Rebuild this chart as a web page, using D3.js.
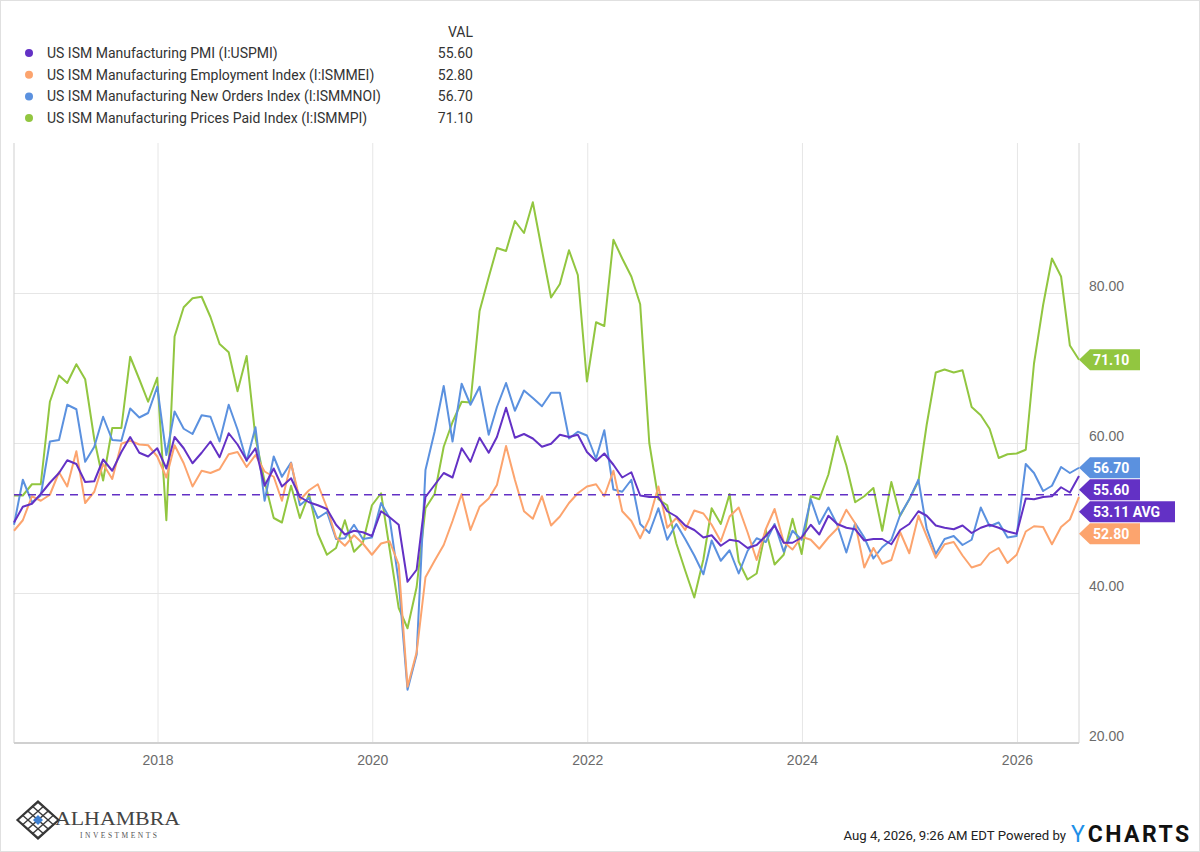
<!DOCTYPE html>
<html>
<head>
<meta charset="utf-8">
<script src="https://cdn.jsdelivr.net/npm/d3@7"></script>
<style>
  body { margin: 0; background: #fff; }
  svg { display: block; font-family: Roboto, "Open Sans", sans-serif; }
</style>
</head>
<body>
<svg id="chart" width="1200" height="852"></svg>
<script>
// Monthly readings, Aug 2016 .. Jul 2026 (one row per year)
const pmi = [
  49.4, 51.5, 51.9, 53.2, 54.7,
  56.0, 57.7, 57.2, 54.8, 54.9, 57.8, 56.3, 58.8, 60.8, 58.7, 58.2, 59.3,
  56.6, 60.8, 59.3, 57.3, 58.7, 60.2, 58.1, 61.3, 59.8, 57.7, 59.3, 54.3,
  56.6, 54.2, 55.3, 52.8, 52.1, 51.7, 51.2, 49.1, 47.8, 48.3, 48.1, 47.6,
  50.9, 50.1, 49.1, 41.5, 43.1, 52.8, 54.4, 56.0, 55.4, 59.3, 57.5, 60.7,
  58.7, 60.8, 64.7, 60.7, 61.2, 60.6, 59.5, 59.9, 61.1, 60.8, 61.1, 58.8,
  57.6, 58.6, 57.1, 55.4, 56.1, 53.0, 52.8, 52.8, 50.9, 50.2, 49.0, 48.4,
  47.4, 47.7, 46.3, 47.1, 46.9, 46.0, 46.4, 47.6, 49.0, 46.7, 46.7, 47.4,
  49.1, 47.8, 50.3, 49.2, 48.7, 48.5, 47.0, 47.2, 47.2, 46.5, 48.4, 49.2,
  50.9, 50.3, 49.0, 48.7, 48.5, 49.0, 48.0, 48.7, 49.1, 48.7, 48.2, 47.9,
  52.6, 52.5, 52.8, 52.9, 54.1, 53.4, 55.6
];
const employment = [
  48.3, 49.7, 52.9, 52.3, 53.1,
  56.1, 54.2, 58.9, 52.0, 53.5, 57.2, 55.2, 59.9, 60.3, 59.8, 59.7, 58.2,
  55.4, 59.7, 57.3, 54.2, 56.3, 56.0, 56.5, 58.5, 58.8, 56.8, 58.4, 56.2,
  55.5, 52.3, 57.3, 52.4, 53.7, 54.5, 51.4, 47.4, 46.3, 47.7, 46.6, 45.1,
  46.6, 46.9, 43.8, 27.5, 32.1, 42.1, 44.3, 46.4, 49.6, 53.2, 48.4, 51.5,
  52.6, 54.4, 59.6, 55.1, 50.9, 49.9, 52.9, 49.0, 50.2, 52.0, 53.3, 54.2,
  54.5, 52.9, 56.3, 50.9, 49.6, 47.3, 49.9, 54.2, 48.7, 50.0, 48.4, 51.0,
  50.6, 49.1, 46.9, 50.2, 51.4, 48.1, 44.4, 48.5, 51.2, 46.8, 45.8, 47.5,
  47.1, 45.9, 47.4, 48.6, 51.1, 49.3, 43.4, 46.0, 43.9, 44.4, 48.1, 45.3,
  50.3, 47.6, 44.7, 46.5, 46.8, 45.0, 43.4, 43.8, 45.3, 46.0, 44.0, 45.1,
  48.2, 48.9, 48.8, 46.5, 48.8, 49.8, 52.8
];
const newOrders = [
  49.1, 55.1, 52.1, 53.0, 60.2,
  60.4, 65.1, 64.5, 57.5, 59.5, 63.5, 60.4, 60.3, 64.6, 63.4, 64.0, 67.5,
  58.4, 64.2, 61.9, 61.2, 63.7, 63.5, 60.2, 65.1, 61.8, 57.6, 62.1, 52.3,
  58.2, 55.5, 57.4, 51.7, 52.7, 50.0, 50.8, 47.2, 47.3, 49.1, 47.2, 47.4,
  52.0, 50.0, 41.5, 27.1, 31.8, 56.4, 61.5, 67.6, 60.2, 67.9, 65.1, 67.5,
  61.1, 64.8, 68.0, 64.3, 67.0, 66.0, 64.9, 66.7, 66.7, 60.6, 61.5, 61.0,
  57.9, 61.7, 53.8, 53.5, 55.1, 49.2, 48.0, 51.3, 47.1, 49.2, 47.2, 45.0,
  42.5, 47.0, 44.3, 45.7, 42.6, 45.6, 47.3, 46.8, 49.2, 45.5, 48.3, 47.1,
  52.5, 49.2, 51.4, 49.1, 45.4, 49.3, 47.4, 44.6, 46.1, 47.1, 50.4, 52.5,
  55.1, 48.6, 45.2, 47.2, 47.6, 46.4, 47.1, 51.4, 48.9, 49.4, 47.4, 47.6,
  57.2, 56.0, 53.6, 54.3, 56.8, 56.0, 56.7
];
const pricesPaid = [
  53.0, 53.0, 54.5, 54.5, 65.5,
  69.0, 68.0, 70.5, 68.5, 60.5, 55.0, 62.0, 62.0, 71.5, 68.5, 65.5, 68.7,
  49.7, 74.2, 78.1, 79.3, 79.5, 76.8, 73.2, 72.1, 66.9, 71.6, 60.7, 54.9,
  50.0, 49.4, 54.3, 50.0, 53.2, 47.9, 45.1, 46.0, 49.7, 45.5, 46.7, 51.7,
  53.3, 45.9, 38.0, 35.3, 40.8, 51.3, 53.2, 59.5, 62.8, 65.5, 65.4, 77.6,
  82.1, 86.0, 85.6, 89.6, 88.0, 92.1, 85.7, 79.4, 81.2, 85.7, 82.4, 68.2,
  76.1, 75.6, 87.1, 84.6, 82.2, 78.5, 60.0, 52.5, 51.7, 46.6, 43.0, 39.4,
  44.5, 51.3, 49.2, 53.2, 44.2, 41.8, 42.6, 48.4, 43.8, 45.1, 49.9, 45.2,
  52.9, 52.5, 55.8, 60.9, 57.0, 52.1, 52.9, 54.0, 48.3, 54.8, 50.3, 52.5,
  54.9, 62.4, 69.4, 69.8, 69.4, 69.7, 64.8, 63.7, 61.9, 58.0, 58.5, 58.6,
  59.1, 70.6, 78.4, 84.6, 82.2, 73.0, 71.1
];

const seriesNames = [
  "US ISM Manufacturing PMI (I:USPMI)",
  "US ISM Manufacturing Employment Index (I:ISMMEI)",
  "US ISM Manufacturing New Orders Index (I:ISMMNOI)",
  "US ISM Manufacturing Prices Paid Index (I:ISMMPI)"
];
const seriesColors = ["#6331c5", "#fca46e", "#5b91df", "#92c640"];
const pmiAverage = 53.11;
const yTicks = [20, 40, 60, 80];
const xTickYears = [2018, 2020, 2022, 2024, 2026];

// month-end dates for every reading
const months = d3.timeMonth.range(new Date(2016, 7, 1), new Date(2026, 7, 1))
  .map(m => d3.timeDay.offset(d3.timeMonth.offset(m, 1), -1));

const series = [pmi, employment, newOrders, pricesPaid].map((values, k) => ({
  name: seriesNames[k],
  color: seriesColors[k],
  values: values.map((v, i) => ({ date: months[i], value: v }))
}));

const svg = d3.select("#chart");

// outer frame
svg.append("rect")
  .attr("x", 0.5).attr("y", 0.5)
  .attr("width", 1199).attr("height", 851)
  .attr("fill", "none").attr("stroke", "#e0e0e0");

// plot area
const plot = { left: 14, right: 1079, top: 143, bottom: 743 };

const x = d3.scaleTime()
  .domain([months[0], months[months.length - 1]])
  .range([plot.left, plot.right]);

const y = d3.scaleLinear()
  .domain([20, 100])
  .range([plot.bottom, plot.top]);

// horizontal grid + right labels
const yAxis = d3.axisRight(y)
  .tickValues(yTicks)
  .tickSize(-(plot.right - plot.left))
  .tickFormat(d3.format(".2f"));

svg.append("g")
  .attr("transform", `translate(${plot.right},0)`)
  .call(yAxis)
  .call(g => g.select(".domain").remove())
  .call(g => g.selectAll("line").attr("stroke", "#e6e6e6"))
  .call(g => g.selectAll("text")
    .attr("x", 10).attr("dy", "-0.18em")
    .attr("fill", "#6b6b6b")
    .style("font-size", "14px"));

// vertical year grid + bottom labels
const xAxis = d3.axisBottom(x)
  .tickValues(xTickYears.map(yr => new Date(yr, 0, 1)))
  .tickSize(-(plot.bottom - plot.top))
  .tickFormat(d3.timeFormat("%Y"));

svg.append("g")
  .attr("transform", `translate(0,${plot.bottom})`)
  .call(xAxis)
  .call(g => g.select(".domain").remove())
  .call(g => g.selectAll("line").attr("stroke", "#e6e6e6"))
  .call(g => g.selectAll("text")
    .attr("y", 12)
    .attr("fill", "#6b6b6b")
    .style("font-size", "14px")
    .style("font-weight", "500"));

// plot borders
svg.append("line")
  .attr("x1", plot.left).attr("x2", plot.left)
  .attr("y1", plot.top).attr("y2", plot.bottom)
  .attr("stroke", "#cfcfcf");
svg.append("line")
  .attr("x1", plot.right).attr("x2", plot.right)
  .attr("y1", plot.top).attr("y2", plot.bottom)
  .attr("stroke", "#d6d6d6");
svg.append("line")
  .attr("x1", plot.left).attr("x2", plot.right)
  .attr("y1", plot.bottom).attr("y2", plot.bottom)
  .attr("stroke", "#d0d0d0").attr("stroke-width", 2);

// lines (prices paid drawn first so PMI sits on top)
const line = d3.line()
  .x(d => x(d.date))
  .y(d => y(d.value));

svg.append("g")
  .selectAll("path")
  .data([series[3], series[2], series[1], series[0]])
  .join("path")
  .attr("fill", "none")
  .attr("stroke", d => d.color)
  .attr("stroke-width", 2)
  .attr("stroke-linejoin", "round")
  .attr("d", d => line(d.values));

// PMI average dashed line
svg.append("line")
  .attr("x1", plot.left).attr("x2", plot.right)
  .attr("y1", y(pmiAverage)).attr("y2", y(pmiAverage))
  .attr("stroke", seriesColors[0])
  .attr("stroke-width", 1.6)
  .attr("stroke-dasharray", "8,6");

// value tags on the right, pushed apart so they do not overlap
const tags = series.map(s => {
  const last = s.values[s.values.length - 1].value;
  return { label: last.toFixed(2), value: last, color: s.color, width: 50 };
});
tags.push({ label: pmiAverage.toFixed(2) + " AVG", value: pmiAverage, color: seriesColors[0], width: 85 });
tags.sort((a, b) => b.value - a.value);

const tagGap = 22;
let prevY = -Infinity;
tags.forEach(t => {
  t.cy = Math.max(y(t.value), prevY + tagGap);
  prevY = t.cy;
});

const tagG = svg.append("g")
  .selectAll("g")
  .data(tags)
  .join("g")
  .attr("transform", d => `translate(${plot.right},${d.cy})`);

tagG.append("path")
  .attr("fill", d => d.color)
  .attr("d", d => `M0,0 L11,-10.5 L${11 + d.width},-10.5 L${11 + d.width},10.5 L11,10.5 Z`);

tagG.append("text")
  .attr("x", 14)
  .attr("y", 5)
  .attr("fill", "#fff")
  .style("font-size", "14px")
  .style("font-weight", "bold")
  .text(d => d.label);

// legend
const legend = svg.append("g");
legend.append("text")
  .attr("x", 473).attr("y", 37)
  .attr("text-anchor", "end")
  .attr("fill", "#333")
  .style("font-size", "14px")
  .text("VAL");

const rows = legend.selectAll("g.row")
  .data(series)
  .join("g")
  .attr("class", "row")
  .attr("transform", (d, i) => `translate(0,${53 + i * 21.7})`);

rows.append("circle")
  .attr("cx", 29).attr("cy", 0).attr("r", 4)
  .attr("fill", d => d.color);

rows.append("text")
  .attr("x", 47).attr("y", 5)
  .attr("fill", "#333")
  .style("font-size", "14px")
  .text(d => d.name);

rows.append("text")
  .attr("x", 473).attr("y", 5)
  .attr("text-anchor", "end")
  .attr("fill", "#333")
  .style("font-size", "14px")
  .text(d => d.values[d.values.length - 1].value.toFixed(2));

// footer: Alhambra logo
const logo = svg.append("g").attr("transform", "translate(38,820)");
const diamond = "M0,-19 L21,0 L0,19 L-21,0 Z";
logo.append("clipPath").attr("id", "dclip").append("path").attr("d", diamond);
const lattice = logo.append("g").attr("clip-path", "url(#dclip)");
d3.range(-30, 31, 10).forEach(o => {
  lattice.append("line")
    .attr("x1", o - 25).attr("y1", -22).attr("x2", o + 25).attr("y2", 22)
    .attr("stroke", "#3a3a3a").attr("stroke-width", 1.4);
  lattice.append("line")
    .attr("x1", o + 25).attr("y1", -22).attr("x2", o - 25).attr("y2", 22)
    .attr("stroke", "#3a3a3a").attr("stroke-width", 1.4);
});
logo.append("path").attr("d", diamond)
  .attr("fill", "none").attr("stroke", "#333").attr("stroke-width", 1.5);
logo.append("path").attr("d", "M0,-5 L5,0 L0,5 L-5,0 Z").attr("fill", "#3d7fd0");

svg.append("text")
  .attr("x", 55).attr("y", 825)
  .attr("fill", "#444")
  .attr("textLength", 125)
  .attr("lengthAdjust", "spacingAndGlyphs")
  .style("font-family", "'Liberation Serif', 'DejaVu Serif', serif")
  .style("font-size", "19px")
  .text("ALHAMBRA");
svg.append("text")
  .attr("x", 80).attr("y", 838)
  .attr("fill", "#555")
  .attr("textLength", 77)
  .style("font-family", "'Liberation Serif', 'DejaVu Serif', serif")
  .style("font-size", "7.5px")
  .text("INVESTMENTS");

// footer: timestamp and Powered by YCHARTS
svg.append("text")
  .attr("x", 1066).attr("y", 840)
  .attr("text-anchor", "end")
  .attr("fill", "#222")
  .style("font-size", "13.2px")
  .text("Aug 4, 2026, 9:26 AM EDT Powered by");
const yc = svg.append("text")
  .attr("x", 1071).attr("y", 842)
  .style("font-size", "23px")
  .style("font-weight", "bold");
yc.append("tspan").attr("fill", "#1e90e8").style("font-weight", "normal").text("Y");
yc.append("tspan").attr("fill", "#111").attr("dx", 3)
  .style("letter-spacing", "2.4px")
  .text("CHARTS");
</script>
</body>
</html>
